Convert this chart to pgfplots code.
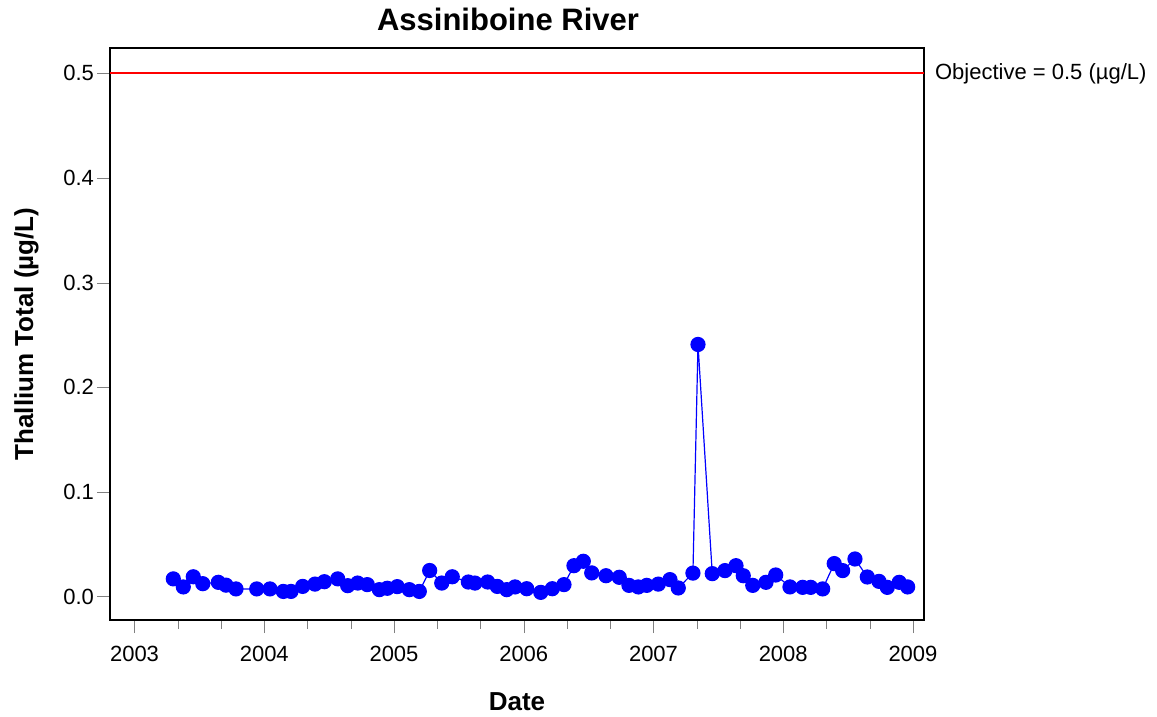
\documentclass[border=0pt]{standalone}
\usepackage{pgfplots}
\pgfplotsset{compat=1.18}
\usepackage{fontspec}
\setmainfont{Liberation Sans}
\definecolor{objred}{RGB}{255,0,0}
\definecolor{ptblue}{RGB}{0,0,255}

\begin{document}
\begin{tikzpicture}
\begin{axis}[
    name=main,
    scale only axis,
    width=407pt, height=286pt,
    xmin=2002.811, xmax=2009.085,
    ymin=-0.0223, ymax=0.5243,
    xtick={2003,2004,2005,2006,2007,2008,2009},
    minor x tick num=2,
    ytick={0,0.1,0.2,0.3,0.4,0.5},
    tick align=outside,
    major tick length=6.5pt,
    minor tick length=4.5pt,
    xtick pos=bottom, ytick pos=left,
    tick label style={font=\fontsize{11}{13}\selectfont},
    x tick label style={yshift=-3pt, /pgf/number format/.cd, 1000 sep={}, fixed},
    y tick label style={xshift=2pt, /pgf/number format/.cd, fixed, fixed zerofill, precision=1},
    /pgf/number format/assume math mode=true,
    xlabel={Date},
    ylabel={Thallium Total (µg/L)},
    xlabel style={font=\fontsize{13}{15}\selectfont\bfseries, yshift=-8.5pt},
    ylabel style={font=\fontsize{13}{15}\selectfont\bfseries, yshift=5.5pt},
    title={Assiniboine River},
    title style={font=\fontsize{15.5}{17}\selectfont\bfseries, yshift=-1pt, xshift=-4.5pt},
    axis line style={line width=0.6pt},
    clip=false,
]
% objective line
\addplot[draw=objred, line width=1pt, no markers] coordinates {(2002.811,0.5) (2009.085,0.5)};
\node[anchor=west, font=\fontsize{11}{13}\selectfont] at (axis cs:2009.085,0.5) {\hspace{2pt}Objective = 0.5 (µg/L)};

% measured values
\addplot[ptblue, line width=0.6pt, mark=*, mark size=3.5pt, mark options={fill=ptblue, draw=ptblue}] coordinates {
(2003.299,0.0170) (2003.376,0.0093) (2003.453,0.0190) (2003.526,0.0124)
(2003.646,0.0137) (2003.705,0.0110) (2003.782,0.0074) (2003.942,0.0074)
(2004.044,0.0074) (2004.147,0.0050) (2004.206,0.0050) (2004.296,0.0098)
(2004.391,0.0120) (2004.463,0.0143) (2004.566,0.0170) (2004.643,0.0105)
(2004.720,0.0130) (2004.794,0.0115) (2004.887,0.0067) (2004.948,0.0080)
(2005.025,0.0096) (2005.118,0.0067) (2005.195,0.0050) (2005.275,0.0250)
(2005.368,0.0130) (2005.449,0.0190) (2005.573,0.0140) (2005.624,0.0130)
(2005.722,0.0140) (2005.796,0.0098) (2005.869,0.0067) (2005.933,0.0093)
(2006.023,0.0076) (2006.131,0.0041) (2006.220,0.0076) (2006.310,0.0115)
(2006.387,0.0296) (2006.459,0.0338) (2006.524,0.0227) (2006.634,0.0200)
(2006.736,0.0185) (2006.811,0.0108) (2006.883,0.0093) (2006.948,0.0108)
(2007.037,0.0120) (2007.127,0.0163) (2007.191,0.0083) (2007.304,0.0225)
(2007.343,0.2410) (2007.453,0.0220) (2007.551,0.0249) (2007.636,0.0296)
(2007.692,0.0200) (2007.765,0.0108) (2007.867,0.0137) (2007.942,0.0207)
(2008.052,0.0093) (2008.150,0.0089) (2008.212,0.0089) (2008.304,0.0074)
(2008.393,0.0316) (2008.458,0.0249) (2008.553,0.0360) (2008.648,0.0188)
(2008.738,0.0146) (2008.802,0.0089) (2008.894,0.0137) (2008.959,0.0093)
};
\end{axis}
\pgfresetboundingbox
\path (main.south west) ++(-55pt,-48.5pt) rectangle ++(578.5pt,358.5pt);
\end{tikzpicture}
\end{document}
